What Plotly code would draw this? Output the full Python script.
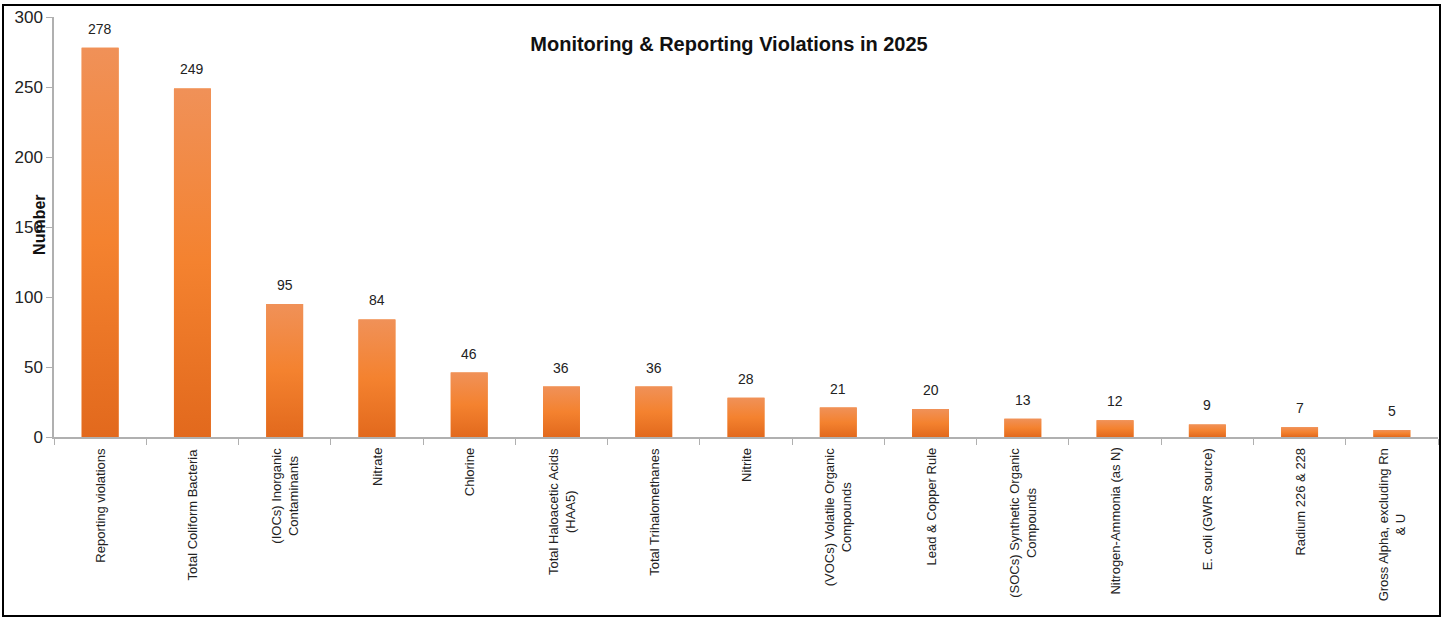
import plotly.graph_objects as go

categories = [
    "Reporting violations",
    "Total Coliform Bacteria",
    "(IOCs) Inorganic<br>Contaminants",
    "Nitrate",
    "Chlorine",
    "Total Haloacetic Acids<br>(HAA5)",
    "Total Trihalomethanes",
    "Nitrite",
    "(VOCs) Volatile Organic<br>Compounds",
    "Lead & Copper Rule",
    "(SOCs) Synthetic Organic<br>Compounds",
    "Nitrogen-Ammonia (as N)",
    "E. coli (GWR source)",
    "Radium 226 & 228",
    "Gross Alpha, excluding Rn<br>& U",
]
values = [278, 249, 95, 84, 46, 36, 36, 28, 21, 20, 13, 12, 9, 7, 5]
y_ticks = [0, 50, 100, 150, 200, 250, 300]

FONT = "Liberation Sans, Arial"
BAR_W = 0.4

fig = go.Figure()
fig.add_trace(go.Bar(
    x=categories, y=values, marker=dict(color="#f2802f", line=dict(width=0)),
    width=BAR_W, hoverinfo="x+y", showlegend=False,
))

# vertical gradient overlays drawn from the same values
for i, v in enumerate(values):
    xs = [i - BAR_W / 2, i - BAR_W / 2, i + BAR_W / 2, i + BAR_W / 2, i - BAR_W / 2]
    ys = [0, v, v, 0, 0]
    fig.add_trace(go.Scatter(
        x=xs, y=ys, xaxis="x2", yaxis="y", mode="lines", line=dict(width=0),
        fill="toself",
        fillgradient=dict(type="vertical",
                          colorscale=[[0, "#e2691d"], [0.5, "#f4822f"], [1, "#f09158"]]),
        hoverinfo="skip", showlegend=False,
    ))

# value labels
for c, v in zip(categories, values):
    fig.add_annotation(x=c, y=v, text=str(v), showarrow=False, yanchor="bottom",
                       yshift=9, font=dict(family=FONT, size=14, color="#222"))

# category labels (rotated, centred lines)
for c in categories:
    fig.add_annotation(x=c, xref="x", y=0, yref="paper", text=c, textangle=-90,
                       showarrow=False, xanchor="center", yanchor="top", yshift=-9,
                       align="center", font=dict(family=FONT, size=13, color="#222"))

fig.add_annotation(xref="paper", yref="paper", x=-0.0101, y=0.505, text="<b>Number</b>",
                   textangle=-90, showarrow=False, xanchor="center", yanchor="middle",
                   font=dict(family=FONT, size=16, color="#111"))

# outer frame
L, R, T, B = 54, 4, 17, 181
W, H = 1442, 618
pw, ph = W - L - R, H - T - B
fig.add_shape(type="rect", xref="paper", yref="paper",
              x0=(3 - L) / pw, x1=(1440 - L) / pw,
              y0=(H - B - 616) / ph, y1=(H - B - 5) / ph,
              line=dict(color="black", width=2), fillcolor="rgba(0,0,0,0)", layer="below")

fig.update_layout(
    width=W, height=H,
    margin=dict(l=L, r=R, t=T, b=B, autoexpand=False),
    paper_bgcolor="white", plot_bgcolor="white",
    bargap=0.6,
    title=dict(text="<b>Monitoring & Reporting Violations in 2025</b>", x=729 / W,
               xanchor="center", y=1 - 44 / H, yanchor="middle",
               font=dict(family=FONT, size=20, color="#111")),
    font=dict(family=FONT, color="#222"),
    xaxis=dict(type="category", showticklabels=False, showgrid=False, showline=True,
               linecolor="#b0b0b0", linewidth=1.5, ticks="outside", tickson="boundaries",
               ticklen=6, tickcolor="#b0b0b0", automargin=False,
               range=[-0.5, len(categories) - 0.5]),
    xaxis2=dict(overlaying="x", range=[-0.5, len(categories) - 0.5], visible=False),
    yaxis=dict(range=[0, 300], tickvals=y_ticks, showgrid=False, showline=True,
               linecolor="#b0b0b0", linewidth=1.5, ticks="outside", ticklen=6,
               tickcolor="#b0b0b0", tickfont=dict(family=FONT, size=17, color="#222"),
               zeroline=False, automargin=False),
)

fig.write_html("out.html", config={"displayModeBar": False},
               post_script="document.body.style.margin='0';document.body.style.overflow='hidden';")
